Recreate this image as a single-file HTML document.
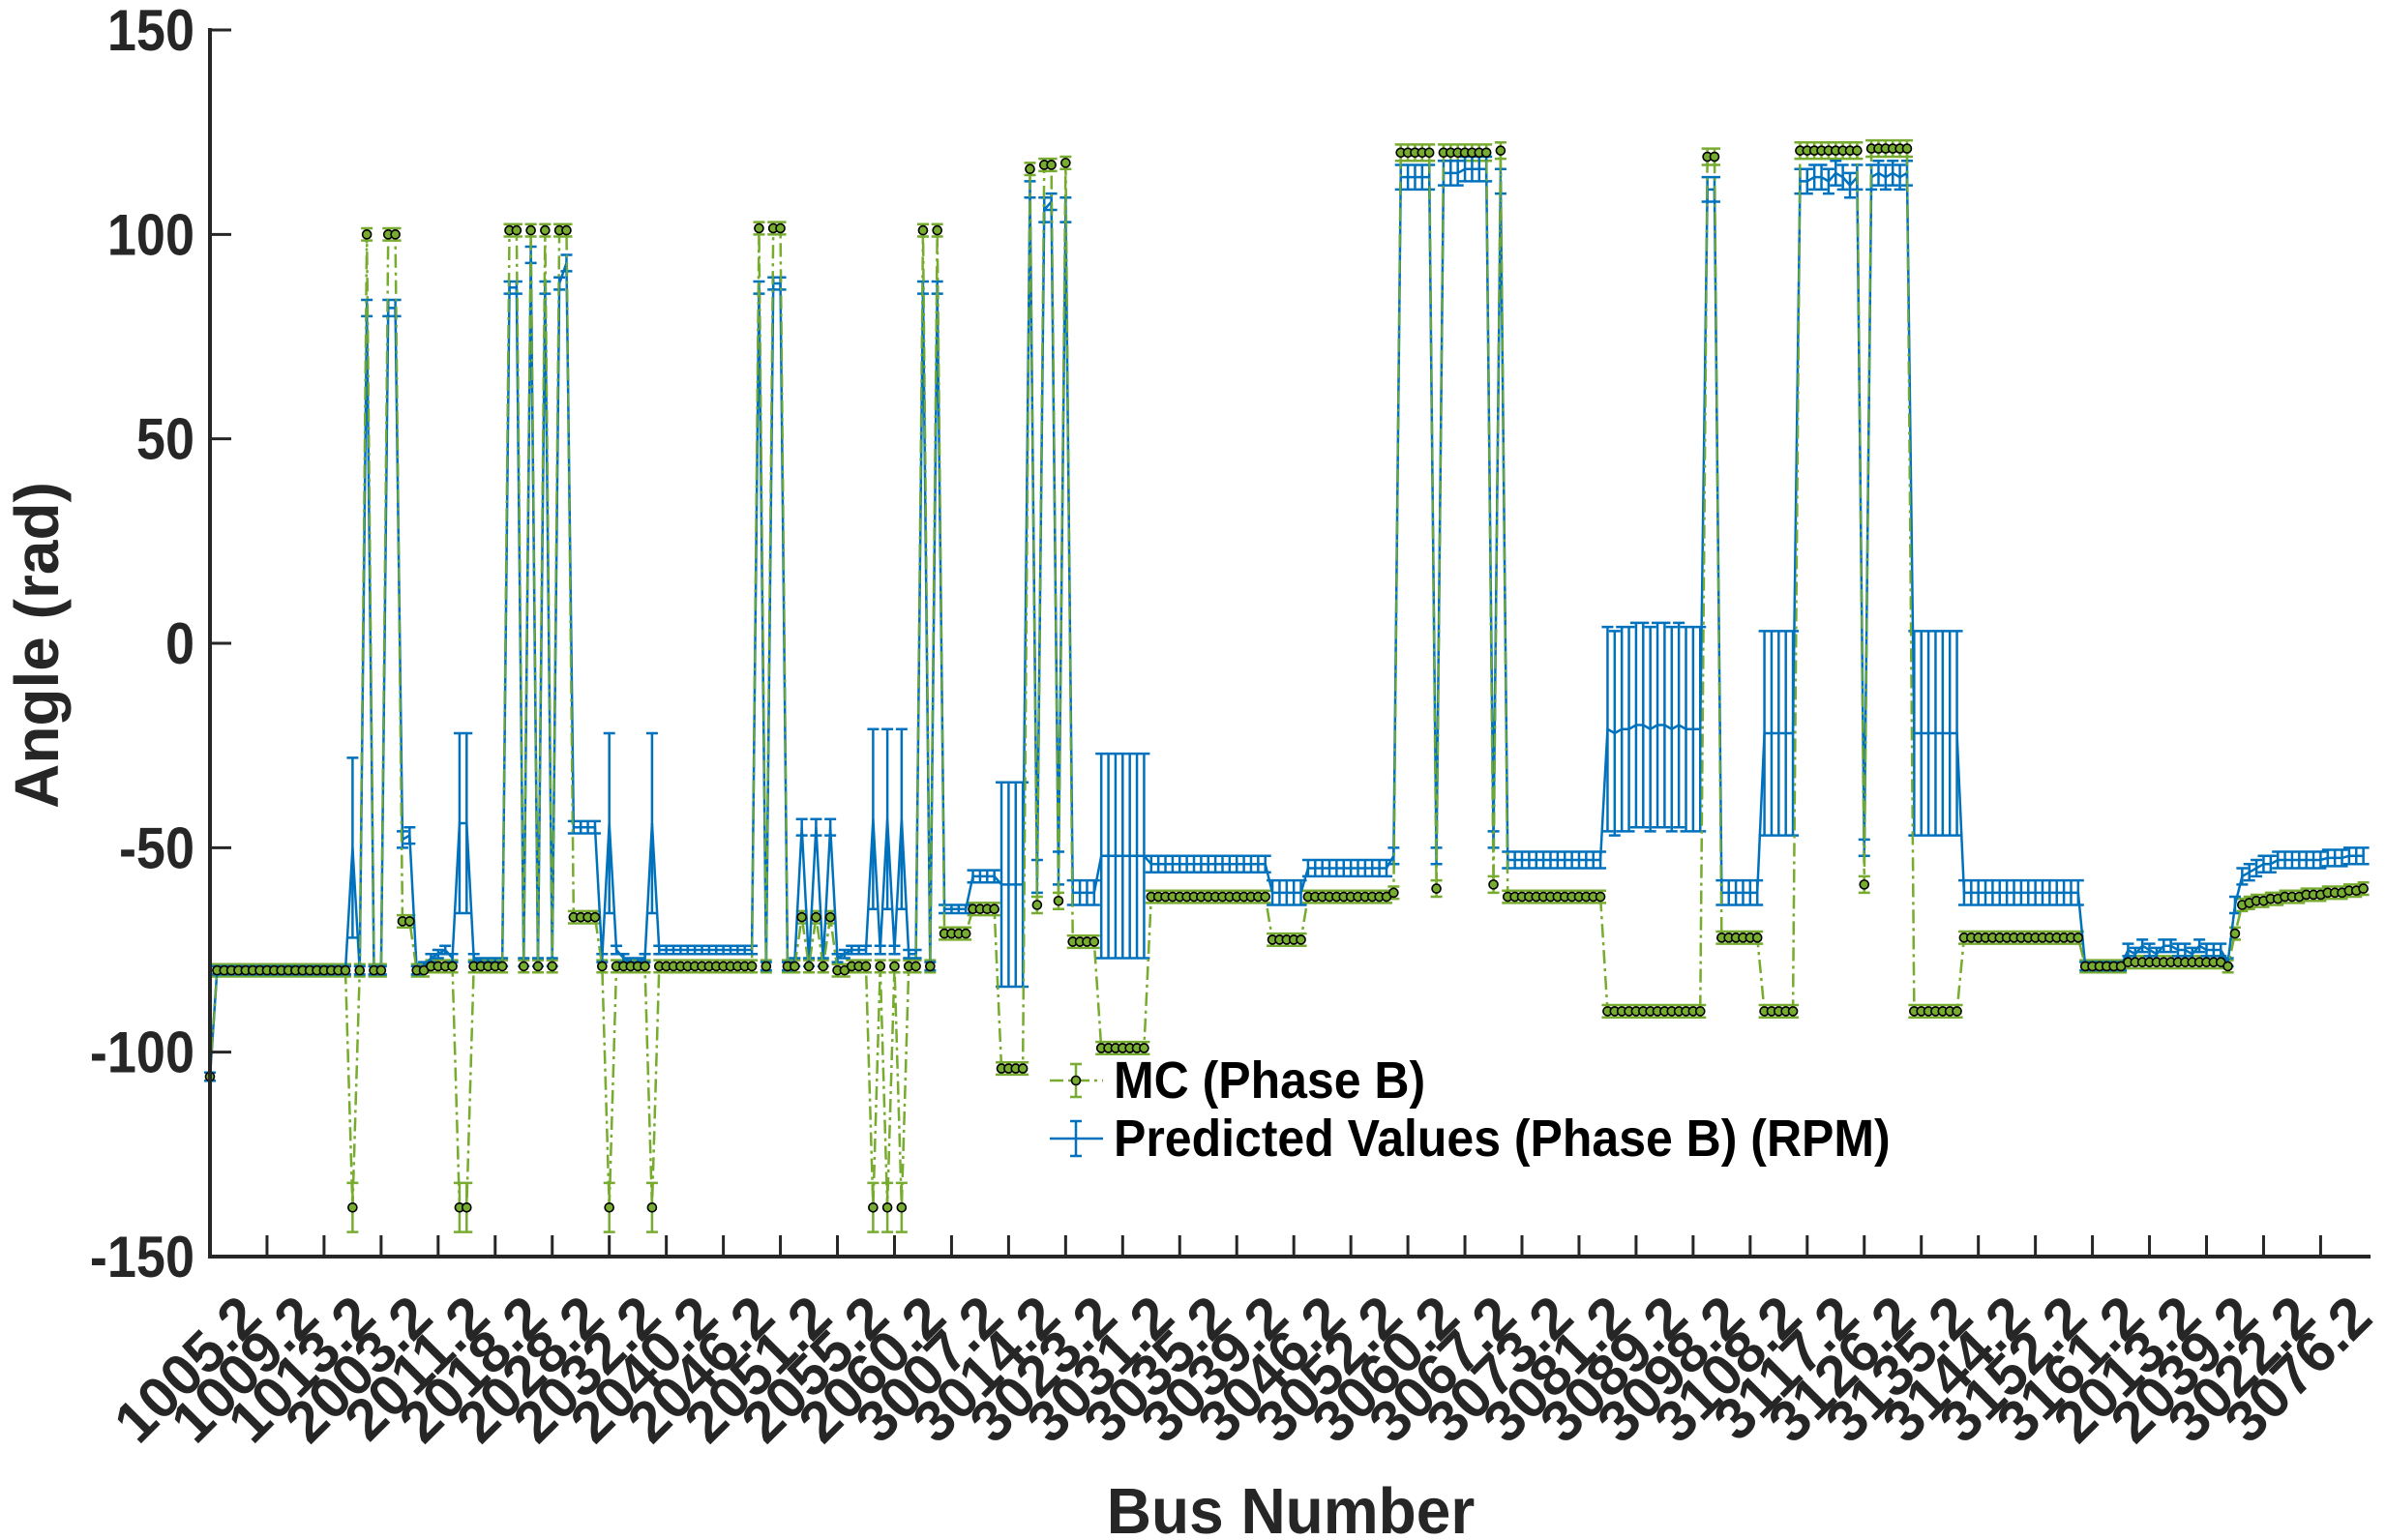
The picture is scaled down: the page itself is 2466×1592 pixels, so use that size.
<!DOCTYPE html>
<html><head><meta charset="utf-8"><style>
html,body{margin:0;padding:0;background:#fff;}
svg{display:block;font-family:"Liberation Sans",Arial,sans-serif;}
</style></head><body>
<svg id="chart" width="2466" height="1592" viewBox="0 0 2466 1592" xmlns="http://www.w3.org/2000/svg">
<rect width="2466" height="1592" fill="#fff"/>
<g id="plot"></g>
<g id="axes"></g>
</svg>
<script>
const tickLabels = ["1005.2","1009.2","1013.2","2003.2","2011.2","2018.2","2028.2","2032.2","2040.2","2046.2","2051.2","2055.2","2060.2","3007.2","3014.2","3023.2","3031.2","3035.2","3039.2","3046.2","3052.2","3060.2","3067.2","3073.2","3081.2","3089.2","3098.2","3108.2","3117.2","3126.2","3135.2","3144.2","3152.2","3161.2","2013.2","2039.2","3022.2","3076.2"];
const yTicks = [150,100,50,0,-50,-100,-150];
const mcValues = [
-106,-80,-80,-80,-80,-80,-80,-80,-80,-80,
-80,-80,-80,-80,-80,-80,-80,-80,-80,-80,
-138,-80,100,-80,-80,100,100,-68,-68,-80,
-80,-79,-79,-79,-79,-138,-138,-79,-79,-79,
-79,-79,101,101,-79,101,-79,101,-79,101,
101,-67,-67,-67,-67,-79,-138,-79,-79,-79,
-79,-79,-138,-79,-79,-79,-79,-79,-79,-79,
-79,-79,-79,-79,-79,-79,-79,101.5,-79,101.5,
101.5,-79,-79,-67,-79,-67,-79,-67,-80,-80,
-79,-79,-79,-138,-79,-138,-79,-138,-79,-79,
101,-79,101,-71,-71,-71,-71,-65,-65,-65,
-65,-104,-104,-104,-104,116,-64,117,117,-63,
117.5,-73,-73,-73,-73,-99,-99,-99,-99,-99,
-99,-99,-62,-62,-62,-62,-62,-62,-62,-62,
-62,-62,-62,-62,-62,-62,-62,-62,-62,-72.5,
-72.5,-72.5,-72.5,-72.5,-62,-62,-62,-62,-62,-62,
-62,-62,-62,-62,-62,-62,-61,120,120,120,
120,120,-60,120,120,120,120,120,120,120,
-59,120.5,-62,-62,-62,-62,-62,-62,-62,-62,
-62,-62,-62,-62,-62,-62,-90,-90,-90,-90,
-90,-90,-90,-90,-90,-90,-90,-90,-90,-90,
119,119,-72,-72,-72,-72,-72,-72,-90,-90,
-90,-90,-90,120.5,120.5,120.5,120.5,120.5,120.5,120.5,
120.5,120.5,-59,121,121,121,121,121,121,-90,
-90,-90,-90,-90,-90,-90,-72,-72,-72,-72,
-72,-72,-72,-72,-72,-72,-72,-72,-72,-72,
-72,-72,-72,-79,-79,-79,-79,-79,-79,-78,
-78,-78,-78,-78,-78,-78,-78,-78,-78,-78,
-78,-78,-78,-79,-71,-64,-63.5,-63,-63,-62.5,
-62.5,-62,-62,-62,-61.5,-61.5,-61.5,-61,-61,-61,
-60.5,-60.5,-60];
const mcErrors = [
1,1.5,1.5,1.5,1.5,1.5,1.5,1.5,1.5,1.5,
1.5,1.5,1.5,1.5,1.5,1.5,1.5,1.5,1.5,1.5,
6,1.5,1.5,1.5,1.5,1.5,1.5,1.5,1.5,1.5,
1.5,1.5,1.5,1.5,1.5,6,6,1.5,1.5,1.5,
1.5,1.5,1.5,1.5,1.5,1.5,1.5,1.5,1.5,1.5,
1.5,1.5,1.5,1.5,1.5,1.5,6,1.5,1.5,1.5,
1.5,1.5,6,1.5,1.5,1.5,1.5,1.5,1.5,1.5,
1.5,1.5,1.5,1.5,1.5,1.5,1.5,1.5,1.5,1.5,
1.5,1.5,1.5,1.5,1.5,1.5,1.5,1.5,1.5,1.5,
1.5,1.5,1.5,6,1.5,6,1.5,6,1.5,1.5,
1.5,1.5,1.5,1.5,1.5,1.5,1.5,1.5,1.5,1.5,
1.5,1.5,1.5,1.5,1.5,1.5,2,1.5,1.5,2,
1.5,1.5,1.5,1.5,1.5,1.5,1.5,1.5,1.5,1.5,
1.5,1.5,1.5,1.5,1.5,1.5,1.5,1.5,1.5,1.5,
1.5,1.5,1.5,1.5,1.5,1.5,1.5,1.5,1.5,1.5,
1.5,1.5,1.5,1.5,1.5,1.5,1.5,1.5,1.5,1.5,
1.5,1.5,1.5,1.5,1.5,1.5,1.5,2,2,2,
2,2,2,2,2,2,2,2,2,2,
2,2,1.5,1.5,1.5,1.5,1.5,1.5,1.5,1.5,
1.5,1.5,1.5,1.5,1.5,1.5,1.5,1.5,1.5,1.5,
1.5,1.5,1.5,1.5,1.5,1.5,1.5,1.5,1.5,1.5,
2,2,1.5,1.5,1.5,1.5,1.5,1.5,1.5,1.5,
1.5,1.5,1.5,2,2,2,2,2,2,2,
2,2,2,2,2,2,2,2,2,1.5,
1.5,1.5,1.5,1.5,1.5,1.5,1.5,1.5,1.5,1.5,
1.5,1.5,1.5,1.5,1.5,1.5,1.5,1.5,1.5,1.5,
1.5,1.5,1.5,1.5,1.5,1.5,1.5,1.5,1.5,1.5,
1.5,1.5,1.5,1.5,1.5,1.5,1.5,1.5,1.5,1.5,
1.5,1.5,1.5,1.5,1.5,1.5,1.5,1.5,1.5,1.5,
1.5,1.5,1.5,1.5,1.5,1.5,1.5,1.5,1.5,1.5,
1.5,1.5,1.5];
const predValues = [
-106,-80,-80,-80,-80,-80,-80,-80,-80,-80,
-80,-80,-80,-80,-80,-80,-80,-80,-80,-80,
-50,-80,82,-80,-80,82,82,-48,-47,-80,
-79,-77,-76,-75,-77,-44,-44,-77,-78,-78,
-78,-78,87,87,-78,95,-78,87,-78,88,
93,-45,-45,-45,-45,-77,-44,-75,-77,-78,
-78,-77,-44,-75,-75,-75,-75,-75,-75,-75,
-75,-75,-75,-75,-75,-75,-75,87,-79,88,
88,-79,-78,-45,-78,-45,-78,-45,-77,-76,
-75,-75,-75,-43,-75,-43,-75,-43,-76,-76,
87,-79,87,-65,-65,-65,-65,-57,-57,-57,
-57,-59,-59,-59,-59,111,-57,106,108,-55,
106,-61,-61,-61,-61,-52,-52,-52,-52,-52,
-52,-52,-54,-54,-54,-54,-54,-54,-54,-54,
-54,-54,-54,-54,-54,-54,-54,-54,-54,-61,
-61,-61,-61,-61,-55,-55,-55,-55,-55,-55,
-55,-55,-55,-55,-55,-55,-52,114,114,114,
114,114,-52,115,115,115,116,116,116,116,
-48,113,-53,-53,-53,-53,-53,-53,-53,-53,
-53,-53,-53,-53,-53,-53,-21,-22,-21,-21,
-20,-20,-21,-20,-20,-21,-20,-21,-21,-21,
111,111,-61,-61,-61,-61,-61,-61,-22,-22,
-22,-22,-22,113,113,114,114,113,115,114,
112,114,-50,114,115,114,115,114,115,-22,
-22,-22,-22,-22,-22,-22,-61,-61,-61,-61,
-61,-61,-61,-61,-61,-61,-61,-61,-61,-61,
-61,-61,-61,-79,-79,-79,-79,-79,-79,-75,
-76,-74,-75,-76,-74,-74,-75,-75,-76,-74,
-75,-75,-75,-78,-64,-57,-56,-55,-54,-54,
-53,-53,-53,-53,-53,-53,-53,-52.5,-52.5,-52.5,
-52,-52,-52];
const predErrors = [
1,1,1,1,1,1,1,1,1,1,
1,1,1,1,1,1,1,1,1,1,
22,1,2,1,1,2,2,2,2,1,
1,1,1,1,1,22,22,1,1,1,
1,1,1.5,1.5,1,2,1,1.5,1,1.5,
2,1.5,1.5,1.5,1.5,1,22,1,1,1,
1,1,22,1,1,1,1,1,1,1,
1,1,1,1,1,1,1,1.5,1,1.5,
1.5,1,1,2,1,2,1,2,1,1,
1,1,1,22,1,22,1,22,1,1,
1.5,1,1.5,1,1,1,1,1.5,1.5,1.5,
1.5,25,25,25,25,2,4,3,2,4,
3,3,3,3,3,25,25,25,25,25,
25,25,2,2,2,2,2,2,2,2,
2,2,2,2,2,2,2,2,2,3,
3,3,3,3,2,2,2,2,2,2,
2,2,2,2,2,2,2,3,3,3,
3,3,2,3,3,3,3,3,3,3,
2,3,2,2,2,2,2,2,2,2,
2,2,2,2,2,2,25,25,25,25,
25,25,25,25,25,25,25,25,25,25,
3,3,3,3,3,3,3,3,25,25,
25,25,25,3,3,3,3,3,3,3,
3,3,2,3,3,3,3,3,3,25,
25,25,25,25,25,25,3,3,3,3,
3,3,3,3,3,3,3,3,3,3,
3,3,3,1,1,1,1,1,1,1.5,
1.5,1.5,1.5,1.5,1.5,1.5,1.5,1.5,1.5,1.5,
1.5,1.5,1.5,1,2,2,2,2,2,2,
2,2,2,2,2,2,2,2,2,2,
2,2,2];

const NS = "http://www.w3.org/2000/svg";
const X0 = 217, X1 = 2450, Y0 = 1299, YT = 31;
const XMAX = 303, VMIN = -150, VMAX = 150;
const GREEN = "#77AC30", BLUE = "#0072BD", AX = "#262626";
function xs(i){ return X0 + i * (X1 - X0) / XMAX; }
function ys(v){ return Y0 - (v - VMIN) * (Y0 - YT) / (VMAX - VMIN); }
function mk(tag, attrs, parent){ const e = document.createElementNS(NS, tag); for (const k in attrs) e.setAttribute(k, attrs[k]); parent.appendChild(e); return e; }
const plot = document.getElementById("plot");
const axes = document.getElementById("axes");

const gMC = mk("g", {}, plot);


let dMC = "";
mcValues.forEach((v, i) => {
  const x = xs(i), t = ys(v + mcErrors[i]), b = ys(v - mcErrors[i]);
  dMC += `M${x},${t}V${b}M${x-6},${t}H${x+6}M${x-6},${b}H${x+6}`;
});
const mcErr = mk("path", {d: dMC, stroke: GREEN, "stroke-width": 2.5, fill: "none"}, gMC);


const mcLine = mk("polyline", {points: mcValues.map((v, i) => xs(i) + "," + ys(v)).join(" "), stroke: GREEN, "stroke-width": 2.5, fill: "none", "stroke-dasharray": "14,5,3,5"}, gMC);



const gP = mk("g", {}, plot);


let dP = "";
predValues.forEach((v, i) => {
  const x = xs(i), t = ys(v + predErrors[i]), b = ys(v - predErrors[i]);
  dP += `M${x},${t}V${b}M${x-6},${t}H${x+6}M${x-6},${b}H${x+6}`;
});
const pErr = mk("path", {d: dP, stroke: BLUE, "stroke-width": 2.5, fill: "none"}, gP);


const pLine = mk("polyline", {points: predValues.map((v, i) => xs(i) + "," + ys(v)).join(" "), stroke: BLUE, "stroke-width": 2.5, fill: "none"}, gP);


const pLine2 = mk("polyline", {points: mcValues.map((v, i) => xs(i) + "," + ys(v)).join(" "), stroke: GREEN, "stroke-width": 2, fill: "none", "stroke-dasharray": "14,5,3,5", opacity: 0.9}, gP);



const gM = mk("g", {}, plot);


mcValues.forEach((v, i) => {
  const c = mk("circle", {cx: xs(i), cy: ys(v), r: 4.5, fill: GREEN, stroke: "#000", "stroke-width": 1.6}, gM);
  
  
});

const yAxis = mk("line", {x1: X0, y1: YT - 2, x2: X0, y2: Y0 + 2, stroke: AX, "stroke-width": 4}, axes);


const xAxis = mk("line", {x1: X0 - 2, y1: Y0, x2: X1, y2: Y0, stroke: AX, "stroke-width": 4}, axes);


yTicks.forEach(v => {
  const y = ys(v);
  const t = mk("line", {x1: X0, y1: y, x2: X0 + 22, y2: y, stroke: AX, "stroke-width": 3}, axes);
  
  
  const l = mk("text", {x: 0, y: 0, "text-anchor": "end", "font-size": 54, "font-weight": "bold", fill: AX, transform: `translate(201,${y + 21}) scale(1,1.12)`}, axes);
  l.textContent = String(v);
  
  
});
tickLabels.forEach((lab, k) => {
  const x = xs(k * 8);
  if (k > 0) {
    const t = mk("line", {x1: x, y1: Y0, x2: x, y2: Y0 - 22, stroke: AX, "stroke-width": 3}, axes);
    
    
  }
  const l = mk("text", {x: 0, y: 0, "text-anchor": "end", "font-size": 60, "font-weight": "bold", fill: AX, transform: `translate(${x + 56},${Y0 + 66}) rotate(-45)`}, axes);
  l.textContent = lab;
  
  
});
const xt = mk("text", {x: 0, y: 0, "text-anchor": "middle", "font-size": 64, "font-weight": "bold", fill: AX, transform: "translate(1334,1585) scale(1,1.05)"}, axes);
xt.textContent = "Bus Number";


const yt = mk("text", {x: 0, y: 0, "text-anchor": "middle", "font-size": 64, "font-weight": "bold", fill: AX, transform: "translate(60,667) rotate(-90)"}, axes);
yt.textContent = "Angle (rad)";



const lg = mk("g", {}, axes);


const e1 = mk("g", {}, lg);


mk("line", {x1: 1085, y1: 1117, x2: 1140, y2: 1117, stroke: GREEN, "stroke-width": 2.5, "stroke-dasharray": "14,5,3,5"}, e1);
mk("path", {d: "M1112,1100V1134M1106,1100H1118M1106,1134H1118", stroke: GREEN, "stroke-width": 2.5, fill: "none"}, e1);
mk("circle", {cx: 1112, cy: 1117, r: 4.5, fill: GREEN, stroke: "#000", "stroke-width": 1.6}, e1);
const t1 = mk("text", {x: 0, y: 0, "font-size": 50, "font-weight": "bold", fill: "#000", transform: "translate(1151,1135) scale(1,1.08)"}, e1);
t1.textContent = "MC (Phase B)";
const e2 = mk("g", {}, lg);


mk("line", {x1: 1085, y1: 1177, x2: 1140, y2: 1177, stroke: BLUE, "stroke-width": 2.5}, e2);
mk("path", {d: "M1112,1159V1195M1106,1159H1118M1106,1195H1118", stroke: BLUE, "stroke-width": 2.5, fill: "none"}, e2);
const t2 = mk("text", {x: 0, y: 0, "font-size": 50, "font-weight": "bold", fill: "#000", transform: "translate(1151,1195) scale(1,1.08)"}, e2);
t2.textContent = "Predicted Values (Phase B) (RPM)";
</script>
</body></html>
